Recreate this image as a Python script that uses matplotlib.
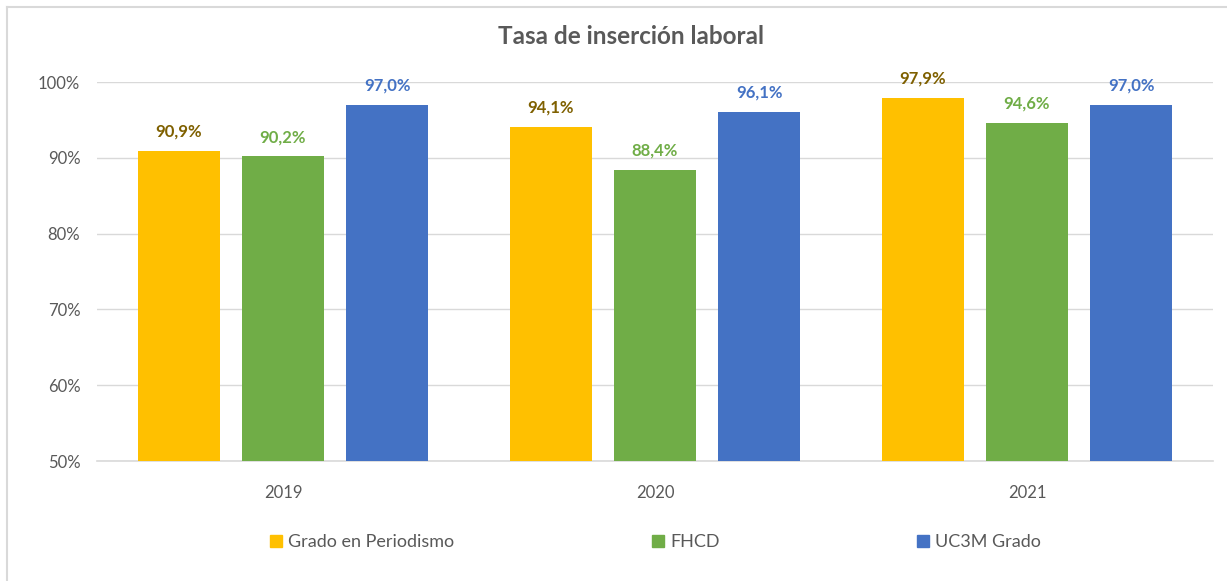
import matplotlib
matplotlib.use("Agg")
import matplotlib.pyplot as plt
from matplotlib.lines import Line2D
import numpy as np

# ---------- data -------------------------------------------------------------
years = ["2019", "2020", "2021"]
series_names = ["Grado en Periodismo", "FHCD", "UC3M Grado"]
periodismo = [90.9, 94.1, 97.9]
fhcd = [90.2, 88.4, 94.6]
uc3m = [97.0, 96.1, 97.0]

bar_colors = ["#FFC000", "#70AD47", "#4472C4"]
label_colors = ["#7F6000", "#70AD47", "#4472C4"]
grey = "#595959"

plt.rcParams["font.family"] = ["Lato", "DejaVu Sans"]

# ---------- figure -----------------------------------------------------------
fig = plt.figure(figsize=(12.27, 5.81), dpi=100)
ax = fig.add_axes([97 / 1227, 1 - 461 / 581, (1213 - 97) / 1227, (461 - 82) / 581])

x = np.arange(len(years))
width = 0.22
offsets = [-0.28, 0.0, 0.28]
for vals, off, col, lcol in zip([periodismo, fhcd, uc3m], offsets, bar_colors, label_colors):
    bars = ax.bar(x + off, vals, width=width, color=col, zorder=3)
    for b, v in zip(bars, vals):
        ax.annotate(f"{v:.1f}%".replace(".", ","),
                    (b.get_x() + b.get_width() / 2, v),
                    xytext=(0, 8), textcoords="offset points",
                    ha="center", va="bottom", fontsize=12, fontweight="bold",
                    color=lcol, annotation_clip=False)

ax.set_xlim(-0.5, 2.5)
ax.set_ylim(50, 100)
ax.set_yticks(range(50, 101, 10))
ax.set_yticklabels([f"{t}%" for t in range(50, 101, 10)])
ax.set_xticks(x)
ax.set_xticklabels(years)
ax.tick_params(length=0, labelsize=12, colors=grey)
ax.tick_params(axis="x", pad=17)
ax.tick_params(axis="y", pad=12)
ax.grid(axis="y", color="#D9D9D9", linewidth=1, zorder=0)
for s in ["top", "right", "left"]:
    ax.spines[s].set_visible(False)
ax.spines["bottom"].set_color("#D9D9D9")
ax.spines["bottom"].set_linewidth(1.2)

fig.text(631 / 1227, 1 - 37 / 581, "Tasa de inserción laboral", ha="center",
         va="center", fontsize=17.5, fontweight="bold", color=grey)

handles = [Line2D([], [], linestyle="none", marker="s", markersize=8,
                  markerfacecolor=c, markeredgecolor=c) for c in bar_colors]
fig.legend(handles, series_names, loc="center", bbox_to_anchor=(656 / 1227, 1 - 542 / 581),
           ncol=3, frameon=False, fontsize=13, labelcolor=grey,
           handlelength=0.6, handletextpad=0.35, columnspacing=11)

# chart border (only top/left visible in the crop)
fig.add_artist(Line2D([7 / 1227, 7 / 1227], [0, 1 - 7 / 581], color="#D9D9D9", lw=1.5,
                      transform=fig.transFigure))
fig.add_artist(Line2D([7 / 1227, 1], [1 - 7 / 581, 1 - 7 / 581], color="#D9D9D9", lw=1.5,
                      transform=fig.transFigure))

fig.savefig("out.png", dpi=100)
